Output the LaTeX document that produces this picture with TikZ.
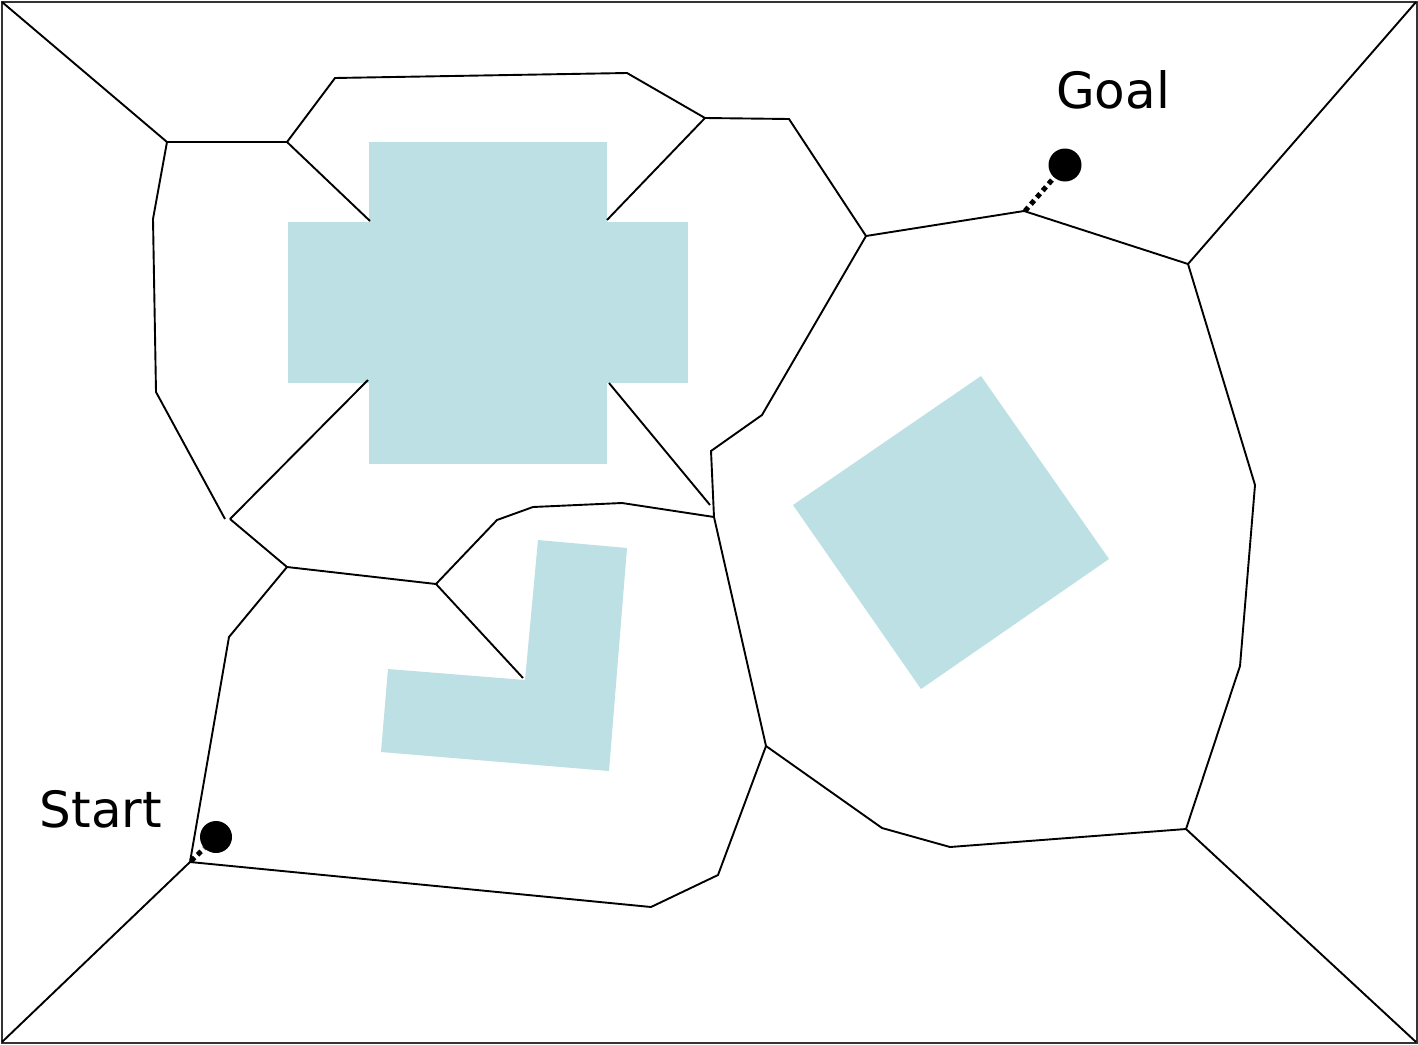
\documentclass[tikz,border=0pt]{standalone}
\usepackage{fontspec}
\setmainfont{DejaVu Sans}
\definecolor{obst}{HTML}{BCE0E3}
\begin{document}
\begin{tikzpicture}[x=1pt,y=-1pt,
  edge/.style={line width=1.9pt,black,line join=miter},
  obstacle/.style={fill=obst,draw=none},
  dotmark/.style={circle,fill=black,inner sep=0pt,minimum width=30pt,minimum height=30pt},
  label/.style={font=\fontsize{50}{60}\selectfont,inner sep=0pt},
  trail/.style={line width=5pt,dash pattern=on 5pt off 4pt}]
\useasboundingbox (0,0) rectangle (1418,1044);
% obstacles
\fill[obstacle] (369,142) rectangle (607,464);
\fill[obstacle] (288,222) rectangle (688,383);
\fill[obstacle] (981,376) -- (1109,559) -- (921,689) -- (793,505) -- cycle;
\fill[obstacle] (538,540) -- (627,548) -- (609,771) -- (381,752) -- (388,669) -- (525,680) -- cycle;
% frame
\draw[line width=2pt,black!80] (1.5,1.5) rectangle (1416.5,1042.5);
% corner edges
\draw[edge] (2,2) -- (167,142);
\draw[edge] (1416,2) -- (1188,264);
\draw[edge] (2,1042) -- (190,862);
\draw[edge] (1416,1042) -- (1186,829);
% roadmap
\draw[edge] (167,142) -- (287,142);
\draw[edge] (287,142) -- (335,78) -- (627,73) -- (705,118) -- (789,119) -- (866,236) -- (1024,211) -- (1188,264) -- (1255,485) -- (1240,666) -- (1186,829) -- (950,847);
\draw[edge] (287,142) -- (370,221);
\draw[edge] (705,118) -- (607,220);
\draw[edge] (167,142) -- (153,219) -- (156,392) -- (225,519);
\draw[edge] (230,519) -- (368,380);
\draw[edge] (230,519) -- (287,567) -- (436,584) -- (497,520) -- (533,507) -- (622,503) -- (714,517);
\draw[edge] (436,584) -- (523,678);
\draw[edge] (287,567) -- (229,637) -- (190,862);
\draw[edge] (190,862) -- (651,907) -- (718,875) -- (766,746) -- (714,517);
\draw[edge] (714,517) -- (711,451) -- (762,415) -- (866,236);
\draw[edge] (609,383) -- (710,505);
\draw[edge] (766,746) -- (882,828) -- (950,847);
% goal and start
\node[dotmark,minimum height=33pt] (goaldot) at (1065,165) {};
\node[dotmark,minimum height=32pt] (startdot) at (216,837) {};
\coordinate (goalpt) at (1025,211);
\coordinate (startpt) at (191,861);
\draw[trail] (goalpt) -- (goaldot);
\draw[trail] (startpt) -- (startdot);
\node[label] (goal) at (1113,90) {Goal};
\node[label] (start) at (101,809) {Start};
\end{tikzpicture}
\end{document}
